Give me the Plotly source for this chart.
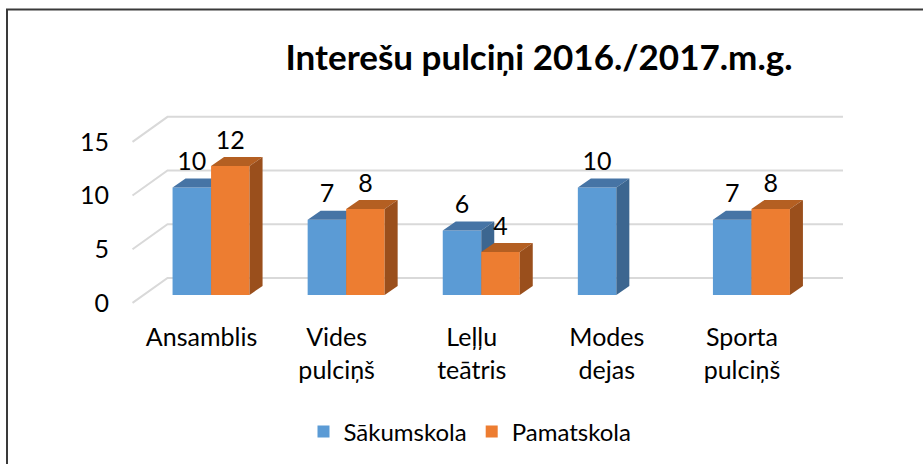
import plotly.graph_objects as go

# ---------------- data ----------------
categories = ["Ansamblis", "Vides<br>pulciņš", "Leļļu<br>teātris", "Modes<br>dejas", "Sporta<br>pulciņš"]
sakumskola = [10, 7, 6, 10, 7]
pamatskola = [12, 8, 4, None, 8]
series_names = ["Sākumskola", "Pamatskola"]
y_ticks = [0, 5, 10, 15]
title_text = "Interešu pulciņi 2016./2017.m.g."

# ---------------- geometry / style ----------------
W, H = 923, 464
ML, MR, MT, MB = 130, 77, 107, 153
X_RANGE = [-0.6, 4.7]
Y_RANGE = [-1.5, 17.5]
plotW, plotH = W - ML - MR, H - MT - MB
pxx = plotW / (X_RANGE[1] - X_RANGE[0])
pxy = plotH / (Y_RANGE[1] - Y_RANGE[0])

BAR_W = 38.5 / pxx
DEPTH = (13 / pxx, 9 / pxy)
BACK = (24 / pxx, 17 / pxy)
FRONT = (-11 / pxx, -8 / pxy)
LABEL_OFF = 23.5 / pxy
XLABEL_SHIFT = -9.5 / pxx

FONT = "Lato"
COLORS = {
    "blue": ("#5b9bd5", "#4674a5", "#3c6690"),
    "orange": ("#ed7d31", "#b45f22", "#9a4f1c"),
}
GRID = "#d9d9d9"

xs = list(range(len(categories)))


def faces(vals, off):
    tx, ty, sx, sy = [], [], [], []
    dx, dy = DEPTH
    for x, v in zip(xs, vals):
        if v is None:
            continue
        x0 = x + off
        x1 = x0 + BAR_W
        tx += [x0, x1, x1 + dx, x0 + dx, x0, None]
        ty += [v, v, v + dy, v + dy, v, None]
        sx += [x1, x1 + dx, x1 + dx, x1, x1, None]
        sy += [0, dy, v + dy, v, 0, None]
    return tx, ty, sx, sy


fig = go.Figure()

# gridlines (back wall + left slant) on base subplot
gx, gy = [], []
for v in y_ticks:
    gx += [-0.5 + FRONT[0], -0.5 + BACK[0], len(categories) - 0.5 + BACK[0], None]
    gy += [v + FRONT[1], v + BACK[1], v + BACK[1], None]
fig.add_trace(go.Scatter(x=gx, y=gy, mode="lines", line=dict(color=GRID, width=2),
                         showlegend=False, hoverinfo="skip"))

series = [
    (sakumskola, series_names[0], "blue", -BAR_W, "x2", "y2"),
    (pamatskola, series_names[1], "orange", 0.0, "x3", "y3"),
]
for vals, name, ckey, off, xa, ya in series:
    front, top, side = COLORS[ckey]
    fig.add_trace(go.Bar(x=xs, y=vals, width=BAR_W, offset=off, name=name,
                         marker=dict(color=front, line=dict(width=0)),
                         xaxis=xa, yaxis=ya))
    tx, ty, sx, sy = faces(vals, off)
    fig.add_trace(go.Scatter(x=tx, y=ty, fill="toself", fillcolor=top, mode="lines",
                             line=dict(width=0, color=top), showlegend=False,
                             hoverinfo="skip", xaxis=xa, yaxis=ya))
    fig.add_trace(go.Scatter(x=sx, y=sy, fill="toself", fillcolor=side, mode="lines",
                             line=dict(width=0, color=side), showlegend=False,
                             hoverinfo="skip", xaxis=xa, yaxis=ya))
    lx = [x + off + BAR_W / 2 for x, v in zip(xs, vals) if v is not None]
    ly = [v + LABEL_OFF for v in vals if v is not None]
    lt = [str(v) for v in vals if v is not None]
    fig.add_trace(go.Scatter(x=lx, y=ly, text=lt, mode="text", textposition="middle center",
                             textfont=dict(family=FONT, size=25, color="#000000"),
                             showlegend=False, hoverinfo="skip", cliponaxis=False,
                             xaxis=xa, yaxis=ya))

hidden = dict(showgrid=False, zeroline=False, showline=False, visible=False, automargin=False)


def px_to_paper(px, py):
    return (px - ML) / plotW, 1 - (py - MT) / plotH


bx0, by0 = px_to_paper(7, 9.5)
bx1, by1 = px_to_paper(W + 20, H + 20)

fig.update_layout(
    width=W, height=H,
    margin=dict(l=ML, r=MR, t=MT, b=MB, pad=0, autoexpand=False),
    paper_bgcolor="white", plot_bgcolor="white",
    barmode="overlay",
    title=dict(text="<b>" + title_text + "</b>", x=539 / W, xref="container", xanchor="center",
               y=1 - 58 / H, yref="container", yanchor="middle",
               font=dict(family=FONT, size=35, color="#000000"), automargin=False),
    xaxis=dict(range=X_RANGE, tickvals=[x + XLABEL_SHIFT for x in xs], ticktext=categories,
               showgrid=False, zeroline=False, showline=False, ticks="",
               ticklabelstandoff=9, automargin=False,
               tickfont=dict(family=FONT, size=25, color="#000000"), fixedrange=True),
    yaxis=dict(range=Y_RANGE, tickvals=[v + FRONT[1] for v in y_ticks],
               ticktext=[str(v) for v in y_ticks],
               showgrid=False, zeroline=False, showline=False, ticks="",
               ticklabelstandoff=20, automargin=False,
               tickfont=dict(family=FONT, size=25, color="#000000"), fixedrange=True),
    xaxis2=dict(range=X_RANGE, overlaying="x", anchor="y2", **hidden),
    yaxis2=dict(range=Y_RANGE, overlaying="y", anchor="x2", **hidden),
    xaxis3=dict(range=X_RANGE, overlaying="x", anchor="y3", **hidden),
    yaxis3=dict(range=Y_RANGE, overlaying="y", anchor="x3", **hidden),
    legend=dict(orientation="h", x=(470 - ML) / plotW, xanchor="center",
                y=1 - (432 - MT) / plotH, yanchor="middle",
                font=dict(family=FONT, size=24, color="#000000"),
                bgcolor="rgba(0,0,0,0)"),
    shapes=[dict(type="rect", xref="paper", yref="paper", x0=bx0, y0=by1, x1=bx1, y1=by0,
                 line=dict(color="#3a3a3a", width=2), layer="above")],
    showlegend=True,
)

fig.write_html("out.html",
               config={"displayModeBar": False},
               post_script="document.body.style.margin='0';document.body.style.overflow='hidden';")
